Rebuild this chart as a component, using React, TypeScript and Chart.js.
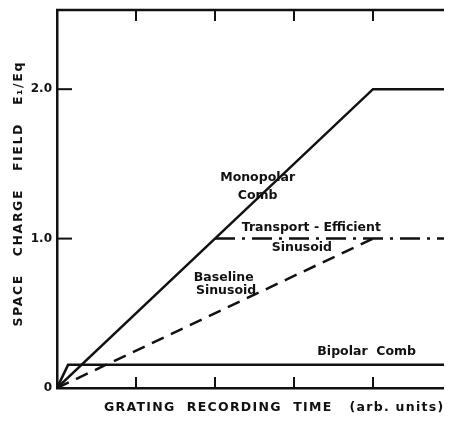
import React, { useEffect, useRef } from "react";
import { Chart, registerables } from "chart.js";

Chart.register(...registerables);

// ---- data ----
const xMin = 0;
const xMax = 5;
const yMin = 0;
const yMax = 2.53;
const yTickValues = [0, 1, 2];
const yTickLabels = ["0", "1.0", "2.0"];
const xTickValues = [1, 2, 3, 4];

const monopolarX = [0, 4, 5];
const monopolarY = [0, 2, 2];
const transportX = [2, 5];
const transportY = [1, 1];
const baselineX = [0, 4];
const baselineY = [0, 1];
const bipolarX = [0, 0.14, 5];
const bipolarY = [0, 0.155, 0.155];

const labelTexts = ["Monopolar", "Comb", "Transport - Efficient", "Sinusoid", "Baseline", "Sinusoid", "Bipolar  Comb"];
const labelX = [2.54, 2.54, 3.22, 3.1, 2.11, 2.14, 3.92];
const labelY = [1.41, 1.29, 1.07, 0.94, 0.74, 0.65, 0.24];

const xTitle = "GRATING  RECORDING  TIME   (arb. units)";
const yTitle = "SPACE   CHARGE   FIELD   E\u2081/Eq";

const pts = (xs: number[], ys: number[]) => xs.map((x, i) => ({ x, y: ys[i] }));

const INK = "#111";

const decorPlugin = {
  id: "decor",
  afterDraw(chart: any) {
    const { ctx, chartArea, scales } = chart;
    const xs = scales.x;
    const ys = scales.y;
    ctx.save();
    ctx.strokeStyle = INK;
    ctx.fillStyle = INK;
    ctx.lineCap = "butt";
    // top frame line
    ctx.lineWidth = 2.5;
    ctx.beginPath();
    ctx.moveTo(chartArea.left - 1, chartArea.top);
    ctx.lineTo(chartArea.right, chartArea.top);
    ctx.stroke();
    // ticks
    ctx.lineWidth = 2;
    xTickValues.forEach((v) => {
      const px = xs.getPixelForValue(v);
      ctx.beginPath();
      ctx.moveTo(px, chartArea.bottom);
      ctx.lineTo(px, chartArea.bottom - 11);
      ctx.moveTo(px, chartArea.top);
      ctx.lineTo(px, chartArea.top + 11);
      ctx.stroke();
    });
    yTickValues.forEach((v) => {
      if (v === 0) return;
      const py = ys.getPixelForValue(v);
      ctx.beginPath();
      ctx.moveTo(chartArea.left, py);
      ctx.lineTo(chartArea.left + 15, py);
      ctx.stroke();
    });
    // labels
    ctx.font = "bold 12.5px 'DejaVu Sans'";
    ctx.textAlign = "center";
    ctx.textBaseline = "middle";
    labelTexts.forEach((t, i) => {
      ctx.fillText(t, xs.getPixelForValue(labelX[i]), ys.getPixelForValue(labelY[i]));
    });
    // axis titles
    ctx.font = "bold 12.5px 'DejaVu Sans'";
    (ctx as any).letterSpacing = "1.3px";
    ctx.fillText(xTitle, xs.getPixelForValue(2.75), chartArea.bottom + 20);
    (ctx as any).letterSpacing = "1.6px";
    ctx.translate(11, ys.getPixelForValue(1.3));
    ctx.rotate(-Math.PI / 2);
    ctx.fillText(yTitle, 0, 0);
    ctx.restore();
  },
};

export default function App() {
  const ref = useRef<HTMLCanvasElement | null>(null);
  useEffect(() => {
    if (!ref.current) return;
    const chart = new Chart(ref.current, {
      type: "line",
      data: {
        datasets: [
          { label: "Monopolar Comb", data: pts(monopolarX, monopolarY), borderColor: INK, borderWidth: 2.5, pointRadius: 0, tension: 0 },
          { label: "Transport-Efficient Sinusoid", data: pts(transportX, transportY), borderColor: INK, borderWidth: 2.5, borderDash: [20, 7, 3, 7], pointRadius: 0 },
          { label: "Baseline Sinusoid", data: pts(baselineX, baselineY), borderColor: INK, borderWidth: 2.5, borderDash: [13, 8], pointRadius: 0 },
          { label: "Bipolar Comb", data: pts(bipolarX, bipolarY), borderColor: INK, borderWidth: 2.5, pointRadius: 0 },
        ],
      },
      options: {
        animation: false,
        responsive: true,
        maintainAspectRatio: false,
        layout: { padding: { top: 2, right: 0, left: 0, bottom: 0 } },
        plugins: { legend: { display: false }, tooltip: { enabled: false } },
        scales: {
          x: {
            type: "linear",
            min: xMin,
            max: xMax,
            grid: { display: false, drawTicks: false },
            border: { display: true, color: INK, width: 2.5 },
            ticks: { display: false },
            afterFit: (s: any) => {
              s.height = 25;
              s.paddingLeft = 0;
              s.paddingRight = 0;
            },
          },
          y: {
            type: "linear",
            min: yMin,
            max: yMax,
            grid: { display: false, drawTicks: false },
            border: { display: true, color: INK, width: 2.5 },
            afterBuildTicks: (s: any) => { s.ticks = yTickValues.map((v) => ({ value: v })); },
            ticks: {
              padding: 5,
              color: INK,
              font: { family: "'DejaVu Sans'", size: 12, weight: "bold" },
              callback: (v: any) => yTickLabels[yTickValues.indexOf(Number(v))] ?? "",
            },
            afterFit: (s: any) => {
              s.width = 49;
              s.paddingTop = 0;
              s.paddingBottom = 0;
            },
          },
        },
      },
      plugins: [decorPlugin],
    });
    return () => chart.destroy();
  }, []);
  return (
    <div style={{ width: 444, height: 405, position: "relative" }}>
      <canvas ref={ref} />
    </div>
  );
}
